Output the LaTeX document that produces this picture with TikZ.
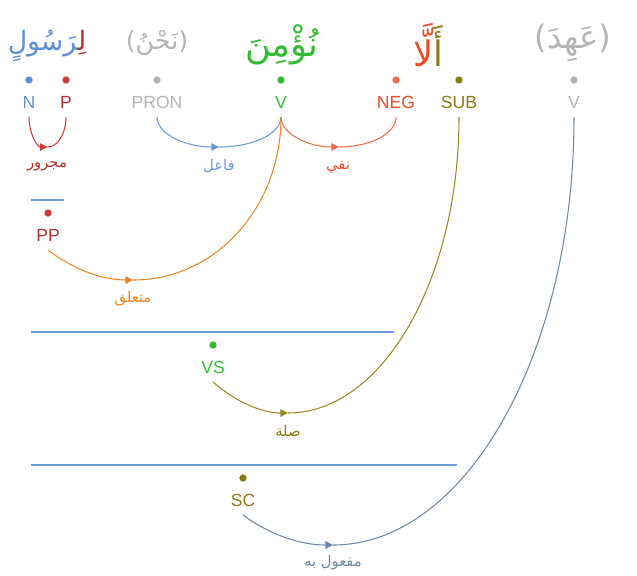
\documentclass[tikz,border=0pt]{standalone}
\usepackage{fontspec}
\setmainfont{Liberation Sans}
\newfontfamily\arabicfont[Script=Arabic]{DejaVu Sans}
\newfontfamily\parenfont{DejaVu Sans}
\TeXXeTstate=1
\usetikzlibrary{arrows.meta}

\definecolor{nounblue}{HTML}{5B8FD8}
\definecolor{prepred}{HTML}{B82E2E}
\definecolor{pronGrey}{HTML}{B4B4B4}
\definecolor{verbgreen}{HTML}{33BB33}
\definecolor{negred}{HTML}{F04A22}
\definecolor{subolive}{HTML}{8A7A16}
\definecolor{jarrred}{HTML}{D03A3A}
\definecolor{failblue}{HTML}{6A9AD8}
\definecolor{nafyorange}{HTML}{F26A4A}
\definecolor{mutaorange}{HTML}{F08424}
\definecolor{silaolive}{HTML}{9A8A22}
\definecolor{mafslate}{HTML}{7188A2}

\newcommand\zwj{^^^^200d}
\newcommand\inparens[1]{{\parenfont(}#1{\parenfont)}}

\tikzset{
  word/.style={font=\arabicfont\fontsize{#1}{#1}\selectfont},
  word/.default=25,
  tag/.style={text=#1, font=\fontsize{12.5}{14}\selectfont, text height=9pt, text depth=0pt, inner xsep=0pt, inner ysep=6pt},
  dot/.style={circle, fill=#1, inner sep=0pt, minimum size=5.2pt},
  dep/.style={draw=#1, line width=0.75pt},
  tip/.style={-{Triangle[length=5.5pt,width=5.5pt]}},
  deplabel/.style={text=#1, font=\arabicfont\fontsize{10.5}{12}\selectfont},
  phrase/.style={draw=failblue, line width=0.8pt},
}

\begin{document}
\begin{tikzpicture}[x=0.025cm, y=-0.025cm]
	\useasboundingbox (0,0) rectangle (637,575);

	% words (coloured parts set in visual order)
	\node[word=19] (rasul) at (47,46) {\textcolor{nounblue}{\zwj رَسُولٍ}\textcolor{prepred}{لِ\zwj}};
	\node[word=18, text=pronGrey] (nahnu) at (157,43) {\inparens{نَحْنُ}};
	\node[word, text=verbgreen] (numin) at (282,45) {نُؤْمِنَ};
	\node[word] (alla) at (428,45) {\textcolor{negred}{لَّا}\textcolor{subolive}{أَ}};
	\node[word=23, text=pronGrey] (ahida) at (573,43) {\inparens{عَهِدَ}};

	% dots
	\node[dot=nounblue] (dn) at (29,80) {};
	\node[dot=jarrred] (dp) at (66,80) {};
	\node[dot=pronGrey] (dpron) at (157,80) {};
	\node[dot=verbgreen] (dv) at (281,80) {};
	\node[dot=nafyorange] (dneg) at (396,80) {};
	\node[dot=subolive] (dsub) at (459,80) {};
	\node[dot=pronGrey] (dv2) at (574,80) {};

	% tags
	\node[tag=nounblue] (n) at (29,102) {N};
	\node[tag=prepred] (p) at (66,102) {P};
	\node[tag=pronGrey] (pron) at (157,102) {PRON};
	\node[tag=verbgreen] (v) at (281,102) {V};
	\node[tag=negred] (neg) at (396,102) {NEG};
	\node[tag=subolive] (sub) at (459,102) {SUB};
	\node[tag=pronGrey] (v2) at (574,102) {V};

	% phrases
	\draw[phrase] (31,200) -- (64,200);
	\node[dot=jarrred] (dpp) at (48,213) {};
	\node[tag=prepred] (pp) at (48,235) {PP};
	\draw[phrase] (31,332) -- (394,332);
	\node[dot=verbgreen] (dvs) at (213,345) {};
	\node[tag=verbgreen] (vs) at (213,367) {VS};
	\draw[phrase] (31,465) -- (457,465);
	\node[dot=subolive] (dsc) at (243,478) {};
	\node[tag=subolive] (sc) at (243,500) {SC};

	% dependencies
	\coordinate (jarrmid) at (47.5,147);
	\draw[dep=jarrred, tip] (n.south) .. controls +(0,16.6) and +(-10.2,0) .. (jarrmid);
	\draw[dep=jarrred] (jarrmid) .. controls +(10.2,0) and +(0,16.6) .. (p.south);
	\node[deplabel=prepred] (jarr) at (47,166) {مجرور};

	\coordinate (failmid) at (219,147);
	\draw[dep=failblue, tip] (pron.south) .. controls +(0,16.6) and +(-34.2,0) .. (failmid);
	\draw[dep=failblue] (failmid) .. controls +(34.2,0) and +(0,16.6) .. (v.south);
	\node[deplabel=failblue] (fail) at (219,166) {فاعل};

	\coordinate (nafymid) at (339,147);
	\draw[dep=nafyorange, tip] (v.south) .. controls +(0,16.6) and +(-31.2,0) .. (nafymid);
	\draw[dep=nafyorange] (nafymid) .. controls +(31.2,0) and +(0,16.6) .. (neg.south);
	\node[deplabel=negred] (nafy) at (338,167) {نفي};

	\coordinate (mutamid) at (133,280);
	\draw[dep=mutaorange, tip] (pp.south) .. controls +(25,19) and +(-31,0) .. (mutamid);
	\draw[dep=mutaorange] (mutamid) .. controls +(83,0) and +(0,90) .. (v.south);
	\node[deplabel=mutaorange] (muta) at (133,299) {متعلق};

	\coordinate (silamid) at (288,413);
	\draw[dep=silaolive, tip] (vs.south) .. controls +(23,20) and +(-26,0) .. (silamid);
	\draw[dep=silaolive] (silamid) .. controls +(94,0) and +(0,163) .. (sub.south);
	\node[deplabel=subolive] (sila) at (288,431) {صلة};

	\coordinate (mafmid) at (333,545);
	\draw[dep=mafslate, tip] (sc.south) .. controls +(29,21) and +(-31,0) .. (mafmid);
	\draw[dep=mafslate] (mafmid) .. controls +(133,0) and +(0,236) .. (v2.south);
	\node[deplabel=mafslate] (maf) at (333,563) {\beginR مفعول به\endR};
\end{tikzpicture}
\end{document}
